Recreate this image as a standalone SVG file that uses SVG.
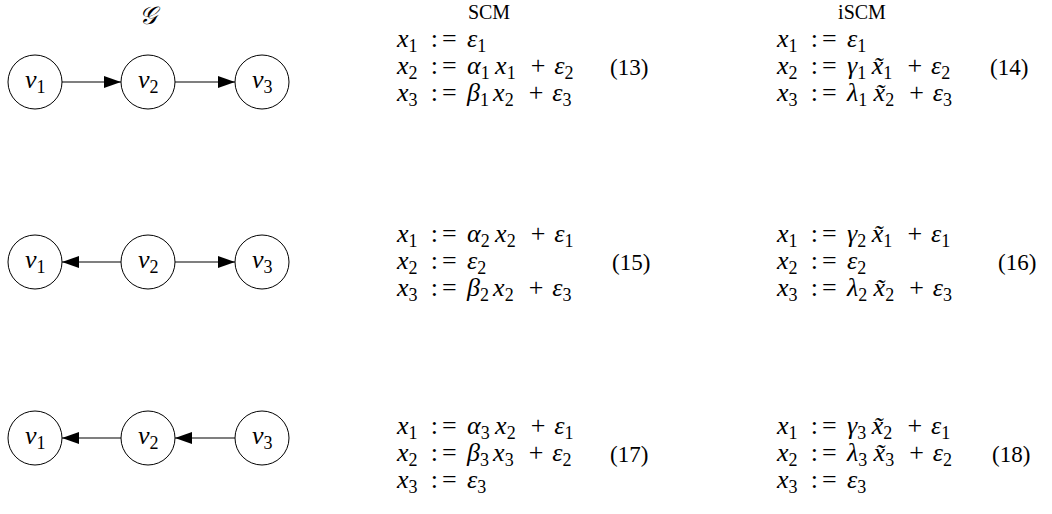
<svg xmlns="http://www.w3.org/2000/svg" width="1052" height="514" viewBox="0 0 1052 514">
<style>
text{font-family:"Liberation Serif","Times New Roman",serif;fill:#000}
.eq{font-size:26px}
.hd{font-size:20px;text-anchor:middle}
.i{font-style:italic;font-size:26px}
.sb{font-size:18px;font-style:normal}
.num{font-size:23px}
.nl{font-size:26px}
circle{fill:#fff;stroke:#000;stroke-width:1}
.e{stroke:#000;stroke-width:1.1;fill:none;marker-end:url(#ah)}
</style>
<defs>
<marker id="ah" viewBox="0 0 17 12" refX="17" refY="6" markerWidth="17" markerHeight="12" markerUnits="userSpaceOnUse" orient="auto">
<path d="M0,0 L17,6 L0,12 z" fill="#000"/>
</marker>
</defs>

<g id="headers">
<text class="hd" x="148" y="24" style="font-size:25px;font-style:italic">𝒢</text>
<text class="hd" x="489" y="19">SCM</text>
<text class="hd" x="862" y="19">iSCM</text>
</g>

<g id="connectors">
<line class="e" x1="62" y1="82" x2="121" y2="82"/>
<line class="e" x1="175" y1="82" x2="235" y2="82"/>
<line class="e" x1="121" y1="262" x2="62" y2="262"/>
<line class="e" x1="175" y1="262" x2="235" y2="262"/>
<line class="e" x1="121" y1="438" x2="62" y2="438"/>
<line class="e" x1="235" y1="438" x2="175" y2="438"/>
</g>

<g id="row1-v1"><circle cx="35" cy="82" r="27"/><text class="nl"><tspan class="i" x="25" y="88">v</tspan><tspan class="sb" y="93">1</tspan></text></g>
<g id="row1-v2"><circle cx="148" cy="82" r="27"/><text class="nl"><tspan class="i" x="138" y="88">v</tspan><tspan class="sb" y="93">2</tspan></text></g>
<g id="row1-v3"><circle cx="262" cy="82" r="27"/><text class="nl"><tspan class="i" x="252" y="88">v</tspan><tspan class="sb" y="93">3</tspan></text></g>
<g id="row2-v1"><circle cx="35" cy="262" r="27"/><text class="nl"><tspan class="i" x="25" y="268">v</tspan><tspan class="sb" y="273">1</tspan></text></g>
<g id="row2-v2"><circle cx="148" cy="262" r="27"/><text class="nl"><tspan class="i" x="138" y="268">v</tspan><tspan class="sb" y="273">2</tspan></text></g>
<g id="row2-v3"><circle cx="262" cy="262" r="27"/><text class="nl"><tspan class="i" x="252" y="268">v</tspan><tspan class="sb" y="273">3</tspan></text></g>
<g id="row3-v1"><circle cx="35" cy="438" r="27"/><text class="nl"><tspan class="i" x="25" y="444">v</tspan><tspan class="sb" y="449">1</tspan></text></g>
<g id="row3-v2"><circle cx="148" cy="438" r="27"/><text class="nl"><tspan class="i" x="138" y="444">v</tspan><tspan class="sb" y="449">2</tspan></text></g>
<g id="row3-v3"><circle cx="262" cy="438" r="27"/><text class="nl"><tspan class="i" x="252" y="444">v</tspan><tspan class="sb" y="449">3</tspan></text></g>

<g id="eq13">
<text class="eq"><tspan class="i" x="397" y="47">x</tspan><tspan class="sb" y="52">1</tspan><tspan x="430.8" y="47">:</tspan><tspan x="441.9" y="47">=</tspan><tspan class="i" x="467" y="47">ε</tspan><tspan class="sb" y="52">1</tspan></text>
<text class="eq"><tspan class="i" x="397" y="74">x</tspan><tspan class="sb" y="79">2</tspan><tspan x="430.8" y="74">:</tspan><tspan x="441.9" y="74">=</tspan><tspan class="i" x="467" y="74">α</tspan><tspan class="sb" y="79">1</tspan><tspan class="i" x="495.1" y="74">x</tspan><tspan class="sb" y="79">1</tspan><tspan x="530.8" y="74">+</tspan><tspan class="i" x="554.3" y="74">ε</tspan><tspan class="sb" y="79">2</tspan></text>
<text class="eq"><tspan class="i" x="397" y="101">x</tspan><tspan class="sb" y="106">3</tspan><tspan x="430.8" y="101">:</tspan><tspan x="441.9" y="101">=</tspan><tspan class="i" x="467" y="101">β</tspan><tspan class="sb" y="106">1</tspan><tspan class="i" x="493.1" y="101">x</tspan><tspan class="sb" y="106">2</tspan><tspan x="528.8" y="101">+</tspan><tspan class="i" x="552.3" y="101">ε</tspan><tspan class="sb" y="106">3</tspan></text>
<text class="num" x="610" y="75">(13)</text>
</g>

<g id="eq14">
<text class="eq"><tspan class="i" x="777" y="47">x</tspan><tspan class="sb" y="52">1</tspan><tspan x="810.8" y="47">:</tspan><tspan x="821.9" y="47">=</tspan><tspan class="i" x="847" y="47">ε</tspan><tspan class="sb" y="52">1</tspan></text>
<text class="eq"><tspan class="i" x="777" y="74">x</tspan><tspan class="sb" y="79">2</tspan><tspan x="810.8" y="74">:</tspan><tspan x="821.9" y="74">=</tspan><tspan class="i" x="847" y="74">γ</tspan><tspan class="sb" y="79">1</tspan><tspan class="i" x="871.8" y="74">x̃</tspan><tspan class="sb" y="79">1</tspan><tspan x="907.5" y="74">+</tspan><tspan class="i" x="931" y="74">ε</tspan><tspan class="sb" y="79">2</tspan></text>
<text class="eq"><tspan class="i" x="777" y="101">x</tspan><tspan class="sb" y="106">3</tspan><tspan x="810.8" y="101">:</tspan><tspan x="821.9" y="101">=</tspan><tspan class="i" x="847" y="101">λ</tspan><tspan class="sb" y="106">1</tspan><tspan class="i" x="873.6" y="101">x̃</tspan><tspan class="sb" y="106">2</tspan><tspan x="909.3" y="101">+</tspan><tspan class="i" x="932.8" y="101">ε</tspan><tspan class="sb" y="106">3</tspan></text>
<text class="num" x="990" y="75">(14)</text>
</g>

<g id="eq15">
<text class="eq"><tspan class="i" x="397" y="242">x</tspan><tspan class="sb" y="247">1</tspan><tspan x="430.8" y="242">:</tspan><tspan x="441.9" y="242">=</tspan><tspan class="i" x="467" y="242">α</tspan><tspan class="sb" y="247">2</tspan><tspan class="i" x="495.1" y="242">x</tspan><tspan class="sb" y="247">2</tspan><tspan x="530.8" y="242">+</tspan><tspan class="i" x="554.3" y="242">ε</tspan><tspan class="sb" y="247">1</tspan></text>
<text class="eq"><tspan class="i" x="397" y="269">x</tspan><tspan class="sb" y="274">2</tspan><tspan x="430.8" y="269">:</tspan><tspan x="441.9" y="269">=</tspan><tspan class="i" x="467" y="269">ε</tspan><tspan class="sb" y="274">2</tspan></text>
<text class="eq"><tspan class="i" x="397" y="296">x</tspan><tspan class="sb" y="301">3</tspan><tspan x="430.8" y="296">:</tspan><tspan x="441.9" y="296">=</tspan><tspan class="i" x="467" y="296">β</tspan><tspan class="sb" y="301">2</tspan><tspan class="i" x="493.1" y="296">x</tspan><tspan class="sb" y="301">2</tspan><tspan x="528.8" y="296">+</tspan><tspan class="i" x="552.3" y="296">ε</tspan><tspan class="sb" y="301">3</tspan></text>
<text class="num" x="612" y="270">(15)</text>
</g>

<g id="eq16">
<text class="eq"><tspan class="i" x="777" y="242">x</tspan><tspan class="sb" y="247">1</tspan><tspan x="810.8" y="242">:</tspan><tspan x="821.9" y="242">=</tspan><tspan class="i" x="847" y="242">γ</tspan><tspan class="sb" y="247">2</tspan><tspan class="i" x="871.8" y="242">x̃</tspan><tspan class="sb" y="247">1</tspan><tspan x="907.5" y="242">+</tspan><tspan class="i" x="931" y="242">ε</tspan><tspan class="sb" y="247">1</tspan></text>
<text class="eq"><tspan class="i" x="777" y="269">x</tspan><tspan class="sb" y="274">2</tspan><tspan x="810.8" y="269">:</tspan><tspan x="821.9" y="269">=</tspan><tspan class="i" x="847" y="269">ε</tspan><tspan class="sb" y="274">2</tspan></text>
<text class="eq"><tspan class="i" x="777" y="296">x</tspan><tspan class="sb" y="301">3</tspan><tspan x="810.8" y="296">:</tspan><tspan x="821.9" y="296">=</tspan><tspan class="i" x="847" y="296">λ</tspan><tspan class="sb" y="301">2</tspan><tspan class="i" x="873.6" y="296">x̃</tspan><tspan class="sb" y="301">2</tspan><tspan x="909.3" y="296">+</tspan><tspan class="i" x="932.8" y="296">ε</tspan><tspan class="sb" y="301">3</tspan></text>
<text class="num" x="998" y="270">(16)</text>
</g>

<g id="eq17">
<text class="eq"><tspan class="i" x="397" y="434">x</tspan><tspan class="sb" y="439">1</tspan><tspan x="430.8" y="434">:</tspan><tspan x="441.9" y="434">=</tspan><tspan class="i" x="467" y="434">α</tspan><tspan class="sb" y="439">3</tspan><tspan class="i" x="495.1" y="434">x</tspan><tspan class="sb" y="439">2</tspan><tspan x="530.8" y="434">+</tspan><tspan class="i" x="554.3" y="434">ε</tspan><tspan class="sb" y="439">1</tspan></text>
<text class="eq"><tspan class="i" x="397" y="461">x</tspan><tspan class="sb" y="466">2</tspan><tspan x="430.8" y="461">:</tspan><tspan x="441.9" y="461">=</tspan><tspan class="i" x="467" y="461">β</tspan><tspan class="sb" y="466">3</tspan><tspan class="i" x="493.1" y="461">x</tspan><tspan class="sb" y="466">3</tspan><tspan x="528.8" y="461">+</tspan><tspan class="i" x="552.3" y="461">ε</tspan><tspan class="sb" y="466">2</tspan></text>
<text class="eq"><tspan class="i" x="397" y="488">x</tspan><tspan class="sb" y="493">3</tspan><tspan x="430.8" y="488">:</tspan><tspan x="441.9" y="488">=</tspan><tspan class="i" x="467" y="488">ε</tspan><tspan class="sb" y="493">3</tspan></text>
<text class="num" x="610" y="462">(17)</text>
</g>

<g id="eq18">
<text class="eq"><tspan class="i" x="777" y="434">x</tspan><tspan class="sb" y="439">1</tspan><tspan x="810.8" y="434">:</tspan><tspan x="821.9" y="434">=</tspan><tspan class="i" x="847" y="434">γ</tspan><tspan class="sb" y="439">3</tspan><tspan class="i" x="871.8" y="434">x̃</tspan><tspan class="sb" y="439">2</tspan><tspan x="907.5" y="434">+</tspan><tspan class="i" x="931" y="434">ε</tspan><tspan class="sb" y="439">1</tspan></text>
<text class="eq"><tspan class="i" x="777" y="461">x</tspan><tspan class="sb" y="466">2</tspan><tspan x="810.8" y="461">:</tspan><tspan x="821.9" y="461">=</tspan><tspan class="i" x="847" y="461">λ</tspan><tspan class="sb" y="466">3</tspan><tspan class="i" x="873.6" y="461">x̃</tspan><tspan class="sb" y="466">3</tspan><tspan x="909.3" y="461">+</tspan><tspan class="i" x="932.8" y="461">ε</tspan><tspan class="sb" y="466">2</tspan></text>
<text class="eq"><tspan class="i" x="777" y="488">x</tspan><tspan class="sb" y="493">3</tspan><tspan x="810.8" y="488">:</tspan><tspan x="821.9" y="488">=</tspan><tspan class="i" x="847" y="488">ε</tspan><tspan class="sb" y="493">3</tspan></text>
<text class="num" x="992" y="462">(18)</text>
</g>
</svg>
